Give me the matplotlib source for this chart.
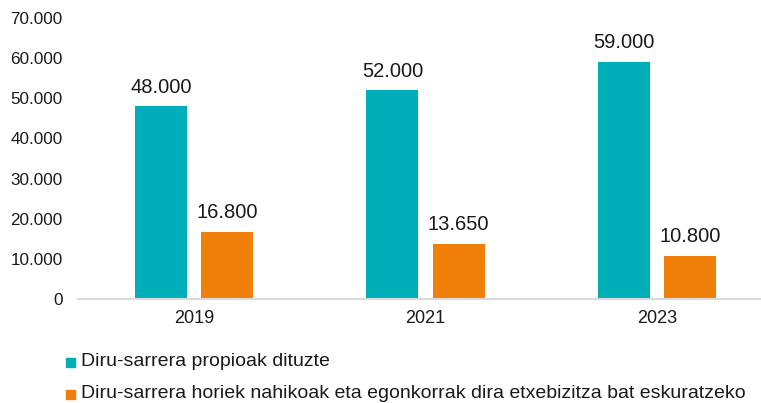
import matplotlib.pyplot as plt
import numpy as np

plt.rcParams['font.family'] = ['Liberation Sans', 'DejaVu Sans']

years = ["2019", "2021", "2023"]
own_income = [48000, 52000, 59000]
enough_income = [16800, 13650, 10800]
series_names = [
    "Diru-sarrera propioak dituzte",
    "Diru-sarrera horiek nahikoak eta egonkorrak dira etxebizitza bat eskuratzeko",
]
teal = "#00AEBA"
orange = "#F07F0A"


def fmt(v):
    # thousands separator with a dot
    return f"{v:,.0f}".replace(",", ".")


fig = plt.figure(figsize=(7.61, 4.03), dpi=100)
ax = fig.add_axes([78 / 761, 1 - 299 / 403, 683 / 761, 281 / 403])

x = np.arange(len(years))
w = 52 / 231.5
gap = 14 / 231.5
b1 = ax.bar(x - (w + gap) / 2, own_income, w, color=teal)
b2 = ax.bar(x + (w + gap) / 2, enough_income, w, color=orange)

for bars, vals in ((b1, own_income), (b2, enough_income)):
    for r, v in zip(bars, vals):
        ax.annotate(fmt(v), (r.get_x() + r.get_width() / 2, v),
                    xytext=(0, 7), textcoords="offset points",
                    ha="center", va="bottom", fontsize=14.5, color="#1a1a1a")

ax.set_ylim(0, 70000)
ax.set_yticks(range(0, 70001, 10000))
ax.set_yticklabels([fmt(t) for t in range(0, 70001, 10000)])
ax.set_xlim(-0.5, 2.5 - 12 / 231.5)
ax.set_xticks(x)
ax.set_xticklabels(years)

for s in ("top", "right", "left"):
    ax.spines[s].set_visible(False)
ax.spines["bottom"].set_color("#D9D9D9")
ax.spines["bottom"].set_linewidth(1.5)
ax.tick_params(axis="y", length=0, pad=11, labelsize=12.3, labelcolor="#1a1a1a")
ax.tick_params(axis="x", length=0, pad=8, labelsize=13, labelcolor="#1a1a1a")

# legend drawn by hand: small square marker and label per row
for i, (name, c) in enumerate(zip(series_names, (teal, orange))):
    yc = 1 - (361 + i * 32) / 403
    fig.patches.append(plt.Rectangle((66 / 761, yc - 6 / 403), 9 / 761, 9 / 403,
                                     transform=fig.transFigure, color=c))
    fig.text(81 / 761, yc, name, fontsize=14, va="center", ha="left", color="#1a1a1a")

fig.savefig("out.png", dpi=100)
